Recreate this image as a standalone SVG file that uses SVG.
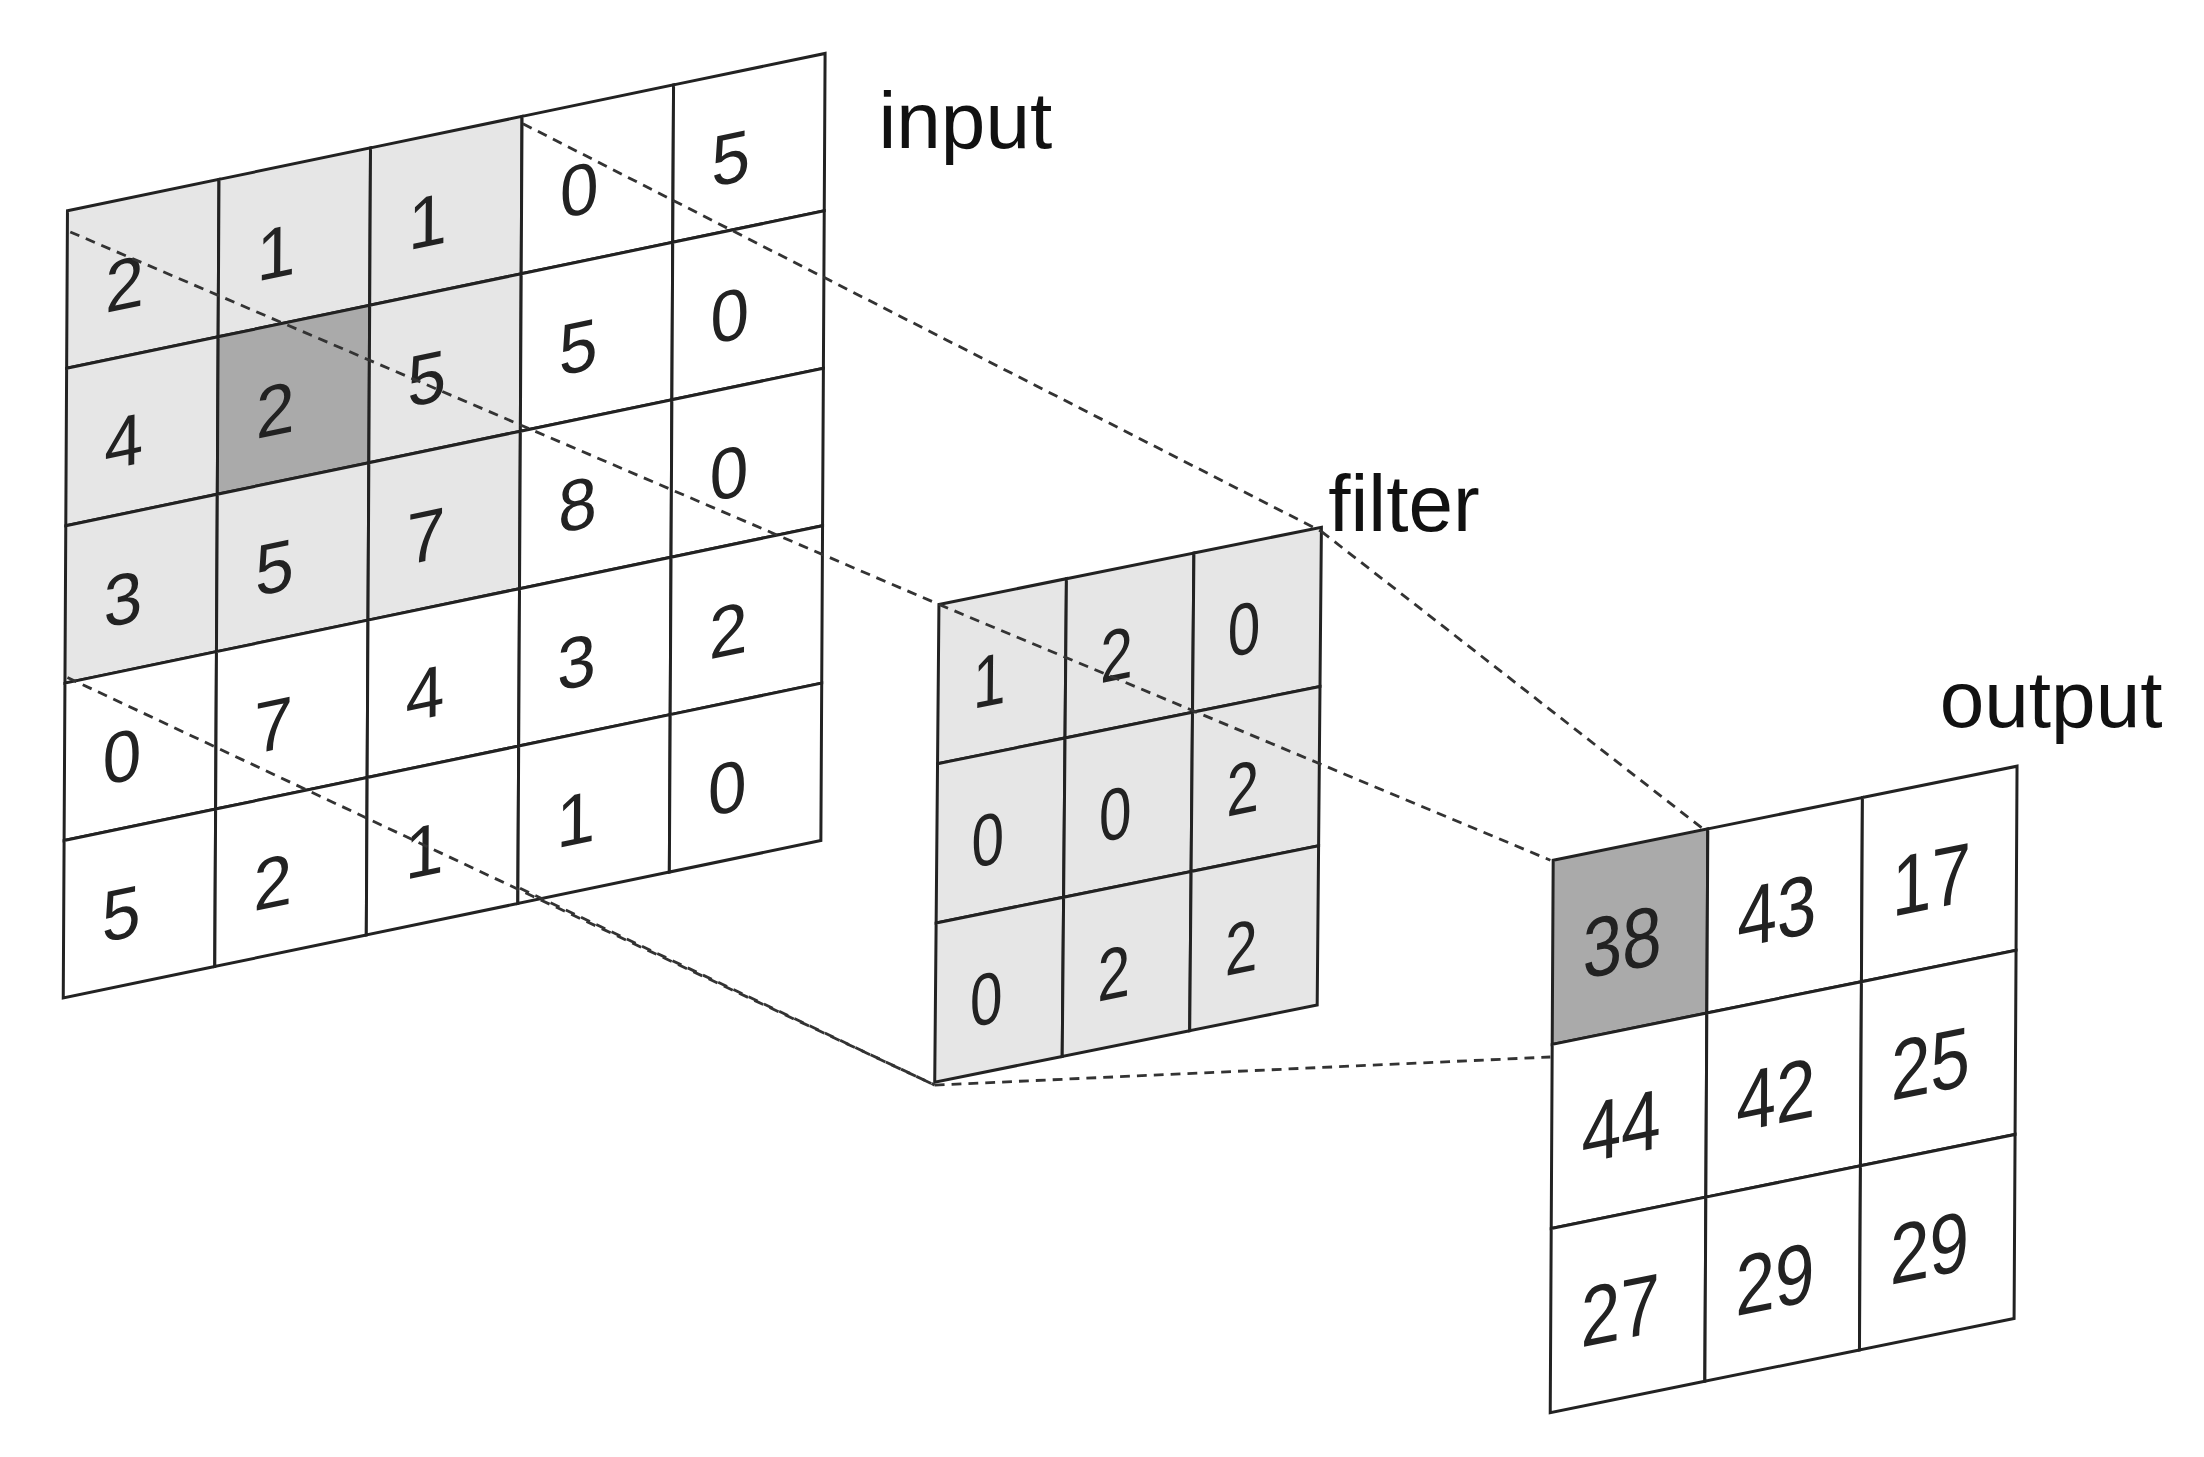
<svg xmlns="http://www.w3.org/2000/svg" width="2204" height="1457" viewBox="0 0 2204 1457">
<style>
.c{stroke:#222;stroke-width:3;vector-effect:non-scaling-stroke;fill:#fff}
.l{fill:#e6e6e6}.d{fill:#aaa}
.n{font-family:"Liberation Sans",Arial,sans-serif;font-size:46px;fill:#222;text-anchor:middle}
.lab{font-family:"Liberation Sans",Arial,sans-serif;font-size:57px;fill:#111}
.ds{stroke:#333;stroke-width:2;stroke-dasharray:7 5;fill:none}
</style>
<rect width="2204" height="1457" fill="#fff"/>
<g transform="scale(1.4056)">
<g id="input" transform="matrix(1.078,-0.224,-0.006,1.12,48,150)">
<g>
<rect class="c l" x="0" y="0" width="100" height="100"/><rect class="c l" x="100" y="0" width="100" height="100"/><rect class="c l" x="200" y="0" width="100" height="100"/><rect class="c" x="300" y="0" width="100" height="100"/><rect class="c" x="400" y="0" width="100" height="100"/>
<rect class="c l" x="0" y="100" width="100" height="100"/><rect class="c d" x="100" y="100" width="100" height="100"/><rect class="c l" x="200" y="100" width="100" height="100"/><rect class="c" x="300" y="100" width="100" height="100"/><rect class="c" x="400" y="100" width="100" height="100"/>
<rect class="c l" x="0" y="200" width="100" height="100"/><rect class="c l" x="100" y="200" width="100" height="100"/><rect class="c l" x="200" y="200" width="100" height="100"/><rect class="c" x="300" y="200" width="100" height="100"/><rect class="c" x="400" y="200" width="100" height="100"/>
<rect class="c" x="0" y="300" width="100" height="100"/><rect class="c" x="100" y="300" width="100" height="100"/><rect class="c" x="200" y="300" width="100" height="100"/><rect class="c" x="300" y="300" width="100" height="100"/><rect class="c" x="400" y="300" width="100" height="100"/>
<rect class="c" x="0" y="400" width="100" height="100"/><rect class="c" x="100" y="400" width="100" height="100"/><rect class="c" x="200" y="400" width="100" height="100"/><rect class="c" x="300" y="400" width="100" height="100"/><rect class="c" x="400" y="400" width="100" height="100"/>
</g>
<g class="n">
<text x="38" y="70">2</text><text x="138" y="70">1</text><text x="238" y="70">1</text><text x="338" y="70">0</text><text x="438" y="70">5</text>
<text x="38" y="170">4</text><text x="138" y="170">2</text><text x="238" y="170">5</text><text x="338" y="170">5</text><text x="438" y="170">0</text>
<text x="38" y="270">3</text><text x="138" y="270">5</text><text x="238" y="270">7</text><text x="338" y="270">8</text><text x="438" y="270">0</text>
<text x="38" y="370">0</text><text x="138" y="370">7</text><text x="238" y="370">4</text><text x="338" y="370">3</text><text x="438" y="370">2</text>
<text x="38" y="470">5</text><text x="138" y="470">2</text><text x="238" y="470">1</text><text x="338" y="470">1</text><text x="438" y="470">0</text>
</g>
</g>
<g id="filter" transform="matrix(0.907,-0.183,-0.01,1.133,668,430)">
<g>
<rect class="c l" x="0" y="0" width="100" height="100"/><rect class="c l" x="100" y="0" width="100" height="100"/><rect class="c l" x="200" y="0" width="100" height="100"/>
<rect class="c l" x="0" y="100" width="100" height="100"/><rect class="c l" x="100" y="100" width="100" height="100"/><rect class="c l" x="200" y="100" width="100" height="100"/>
<rect class="c l" x="0" y="200" width="100" height="100"/><rect class="c l" x="100" y="200" width="100" height="100"/><rect class="c l" x="200" y="200" width="100" height="100"/>
</g>
<g class="n">
<text x="40" y="70">1</text><text x="140" y="70">2</text><text x="240" y="70">0</text>
<text x="40" y="170">0</text><text x="140" y="170">0</text><text x="240" y="170">2</text>
<text x="40" y="270">0</text><text x="140" y="270">2</text><text x="240" y="270">2</text>
</g>
</g>
<g id="output" transform="matrix(1.1,-0.223,-0.007,1.31,1105,612)">
<g>
<rect class="c d" x="0" y="0" width="100" height="100"/><rect class="c" x="100" y="0" width="100" height="100"/><rect class="c" x="200" y="0" width="100" height="100"/>
<rect class="c" x="0" y="100" width="100" height="100"/><rect class="c" x="100" y="100" width="100" height="100"/><rect class="c" x="200" y="100" width="100" height="100"/>
<rect class="c" x="0" y="200" width="100" height="100"/><rect class="c" x="100" y="200" width="100" height="100"/><rect class="c" x="200" y="200" width="100" height="100"/>
</g>
<g class="n">
<text x="45" y="68">38</text><text x="145" y="68">43</text><text x="245" y="68">17</text>
<text x="45" y="168">44</text><text x="145" y="168">42</text><text x="245" y="168">25</text>
<text x="45" y="268">27</text><text x="145" y="268">29</text><text x="245" y="268">29</text>
</g>
</g>
<g id="connectors" class="ds">
<line x1="50" y1="165" x2="668" y2="430"/>
<line x1="372" y1="88" x2="940" y2="378"/>
<line x1="48" y1="482" x2="665" y2="772"/>
<line x1="370" y1="632" x2="665" y2="772"/>
<line x1="668" y1="430" x2="1103" y2="612"/>
<line x1="940" y1="378" x2="1212" y2="590"/>
<line x1="665" y1="772" x2="1103" y2="752"/>
</g>
<text class="lab" x="625" y="105">input</text>
<text class="lab" x="945" y="378">filter</text>
<text class="lab" x="1380" y="517">output</text>
</g>
</svg>
